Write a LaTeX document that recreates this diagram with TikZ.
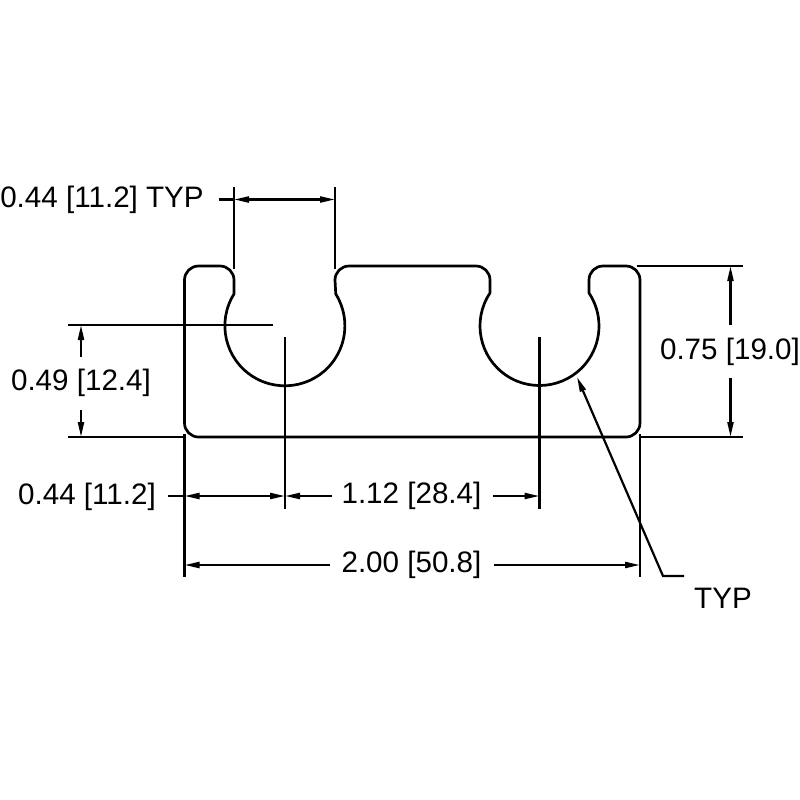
\documentclass[tikz,border=0pt]{standalone}
\usepackage{fontspec}
\setmainfont{Liberation Sans}
\usetikzlibrary{arrows.meta}
\begin{document}
\begin{tikzpicture}
	[x=0.5pt,y=-0.5pt,
	perfil/.style={draw=black, line width=1.35pt, line join=round},
	cota/.style={draw=black, line width=1.1pt},
	setas/.style={cota, {Triangle[length=7.5pt,width=3pt]}-{Triangle[length=7.5pt,width=3pt]}},
	setafim/.style={cota, -{Triangle[length=7.5pt,width=3pt]}},
	rotulo/.style={inner sep=0pt, font=\fontsize{14.8}{17}\selectfont}]
	\useasboundingbox (0,0) rectangle (800,800);
	% contorno da peca
	\draw[perfil] (184.5,280) arc[start angle=180,end angle=270,radius=14] -- (220,266)
		arc[start angle=270,end angle=360,radius=14] -- (234,294)
		arc[start angle=212,end angle=-32,radius=60] -- (335,280)
		arc[start angle=180,end angle=270,radius=14] -- (476,266)
		arc[start angle=270,end angle=360,radius=14] -- (490,293)
		arc[start angle=213.7,end angle=-33.7,radius=59.5] -- (589,280)
		arc[start angle=180,end angle=270,radius=14] -- (626,266)
		arc[start angle=270,end angle=360,radius=14] -- (640,423)
		arc[start angle=0,end angle=90,radius=14] -- (198.5,437)
		arc[start angle=90,end angle=180,radius=14] -- cycle;
	% pontos das cotas
	\coordinate (a1) at (234,187);
	\coordinate (a2) at (234,269);
	\coordinate (a3) at (335,187);
	\coordinate (a4) at (335,269);
	\coordinate (a5) at (219,199.5);
	\coordinate (a6) at (234,199.5);
	\coordinate (a7) at (335,199.5);
	\coordinate (b1) at (68,325);
	\coordinate (b2) at (273,325);
	\coordinate (b3) at (68,437);
	\coordinate (b4) at (184,437);
	\coordinate (b5) at (81,325);
	\coordinate (b6) at (81,357);
	\coordinate (b7) at (81,410);
	\coordinate (b8) at (81,437);
	\coordinate (c1) at (637,266);
	\coordinate (c2) at (743,266);
	\coordinate (c3) at (640,437);
	\coordinate (c4) at (743,437);
	\coordinate (c5) at (730.5,266);
	\coordinate (c6) at (730.5,325);
	\coordinate (c7) at (730.5,378);
	\coordinate (c8) at (730.5,437);
	\coordinate (d1) at (184.5,434);
	\coordinate (d2) at (184.5,577);
	\coordinate (d3) at (640,434);
	\coordinate (d4) at (640,577);
	\coordinate (d5) at (285,337);
	\coordinate (d6) at (285,509);
	\coordinate (d7) at (539.5,337);
	\coordinate (d8) at (539.5,509);
	\coordinate (e1) at (168,496);
	\coordinate (e2) at (184.5,496);
	\coordinate (e3) at (285,496);
	\coordinate (e4) at (332,496);
	\coordinate (e5) at (493,496);
	\coordinate (e6) at (539.5,496);
	\coordinate (f1) at (184.5,565);
	\coordinate (f2) at (330,565);
	\coordinate (f3) at (494,565);
	\coordinate (f4) at (640,565);
	\coordinate (g1) at (663,576);
	\coordinate (g2) at (684,576);
	\coordinate (g3) at (577,377);
	% textos
	\node[rotulo] (txttyp)  at (102,200) {0.44 [11.2] TYP};
	\node[rotulo] (txtrasg) at (81,383)  {0.49 [12.4]};
	\node[rotulo] (txtalt)  at (730,352) {0.75 [19.0]};
	\node[rotulo] (txtesq)  at (87,497)  {0.44 [11.2]};
	\node[rotulo] (txtpasso) at (411.5,496) {1.12 [28.4]};
	\node[rotulo] (txtlarg) at (411.5,565) {2.00 [50.8]};
	\node[rotulo] (txtraio) at (723,598) {TYP};
	% linhas de extensao
	\draw[cota] (a1) -- (a2);
	\draw[cota] (a3) -- (a4);
	\draw[cota] (b1) -- (b2);
	\draw[cota] (b3) -- (b4);
	\draw[cota] (c1) -- (c2);
	\draw[cota] (c3) -- (c4);
	\draw[cota] (d1) -- (d2);
	\draw[cota] (d3) -- (d4);
	\draw[cota] (d5) -- (d6);
	\draw[cota] (d7) -- (d8);
	% setas
	\draw[cota] (a5) -- (a6);
	\draw[setas] (a6) -- (a7);
	\draw[setafim] (b6) -- (b5);
	\draw[setafim] (b7) -- (b8);
	\draw[setafim] (c6) -- (c5);
	\draw[setafim] (c7) -- (c8);
	\draw[cota] (e1) -- (e2);
	\draw[setas] (e2) -- (e3);
	\draw[setafim] (e4) -- (e3);
	\draw[setafim] (e5) -- (e6);
	\draw[setafim] (f2) -- (f1);
	\draw[setafim] (f3) -- (f4);
	\draw[setafim] (g2) -- (g1) -- (g3);
\end{tikzpicture}
\end{document}
